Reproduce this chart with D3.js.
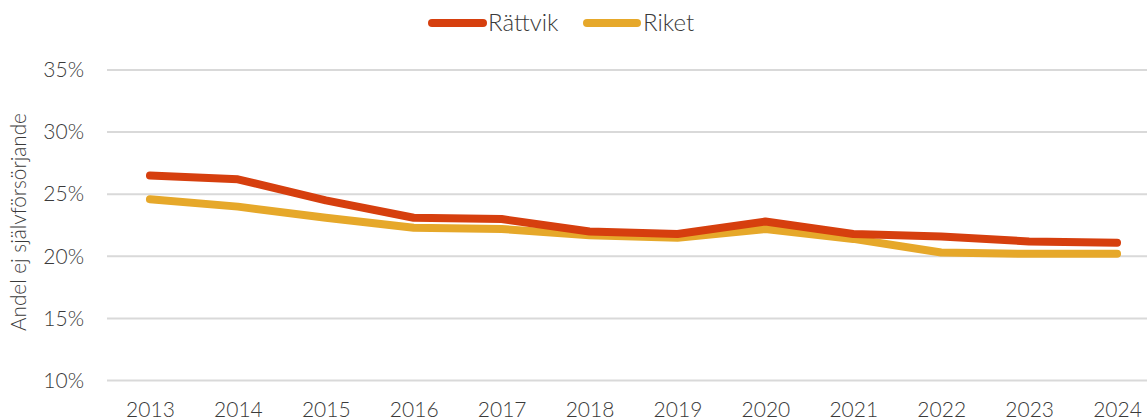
<!DOCTYPE html>
<html>
<head>
<meta charset="utf-8">
<script src="https://cdn.jsdelivr.net/npm/d3@7"></script>
<style>
  html, body { margin: 0; padding: 0; background: #fff; }
  svg { display: block; font-family: Lato, "Open Sans", sans-serif; font-weight: 300; }
</style>
</head>
<body>
<svg id="chart" width="1147" height="420"></svg>
<script>
const years = ["2013","2014","2015","2016","2017","2018","2019","2020","2021","2022","2023","2024"];
const rattvik = [26.5, 26.2, 24.5, 23.1, 23.0, 22.0, 21.8, 22.8, 21.8, 21.6, 21.2, 21.1];
const riket   = [24.6, 24.0, 23.1, 22.3, 22.2, 21.7, 21.5, 22.2, 21.4, 20.3, 20.2, 20.2];
const yTicks  = [10, 15, 20, 25, 30, 35];
const seriesNames = ["Rättvik", "Riket"];
const seriesColors = ["#d63f0e", "#e6a82a"];

const svg = d3.select("#chart");

const x = d3.scalePoint().domain(years).range([106, 1161]).padding(0.5);
const y = d3.scaleLinear().domain([10, 35]).range([380.5, 70]);

// horizontal gridlines
svg.append("g")
  .selectAll("line")
  .data(yTicks)
  .join("line")
  .attr("x1", 107).attr("x2", 1147)
  .attr("y1", d => y(d)).attr("y2", d => y(d))
  .attr("stroke", "#d9d9d9").attr("stroke-width", 2);

// y axis labels
const yAxis = svg.append("g")
  .attr("transform", "translate(84,0)")
  .call(d3.axisLeft(y).tickValues(yTicks).tickFormat(d => d + "%").tickSize(0).tickPadding(0));
yAxis.select(".domain").remove();
yAxis.selectAll("text")
  .attr("font-family", "Lato, 'Open Sans', sans-serif")
  .attr("font-weight", 300)
  .attr("font-size", 21).attr("fill", "#3a3a3a");

// x axis labels
const xAxis = svg.append("g")
  .attr("transform", "translate(0,396)")
  .call(d3.axisBottom(x).tickSize(0).tickPadding(0));
xAxis.select(".domain").remove();
xAxis.selectAll("text")
  .attr("font-family", "Lato, 'Open Sans', sans-serif")
  .attr("font-weight", 300)
  .attr("font-size", 21).attr("fill", "#3a3a3a")
  .attr("dy", "1em");

// y axis title
svg.append("text")
  .attr("transform", "translate(26,222) rotate(-90)")
  .attr("text-anchor", "middle")
  .attr("font-size", 20.7).attr("fill", "#3a3a3a")
  .text("Andel ej självförsörjande");

// series lines
const line = d3.line().x((d, i) => x(years[i])).y(d => y(d));
[riket, rattvik].forEach((vals, k) => {
  const idx = k === 0 ? 1 : 0;
  svg.append("path")
    .datum(vals)
    .attr("d", line)
    .attr("fill", "none")
    .attr("stroke", seriesColors[idx])
    .attr("stroke-width", 8)
    .attr("stroke-linecap", "round")
    .attr("stroke-linejoin", "round");
});

// legend
const legendItems = [
  { name: seriesNames[0], color: seriesColors[0], x0: 432, x1: 483, tx: 488 },
  { name: seriesNames[1], color: seriesColors[1], x0: 587, x1: 637, tx: 643 }
];
const lg = svg.append("g");
legendItems.forEach(it => {
  lg.append("line")
    .attr("x1", it.x0).attr("x2", it.x1).attr("y1", 23).attr("y2", 23)
    .attr("stroke", it.color).attr("stroke-width", 8).attr("stroke-linecap", "round");
  lg.append("text")
    .attr("x", it.tx).attr("y", 23).attr("dy", "0.35em")
    .attr("font-size", 24).attr("fill", "#3a3a3a")
    .text(it.name);
});
</script>
</body>
</html>
